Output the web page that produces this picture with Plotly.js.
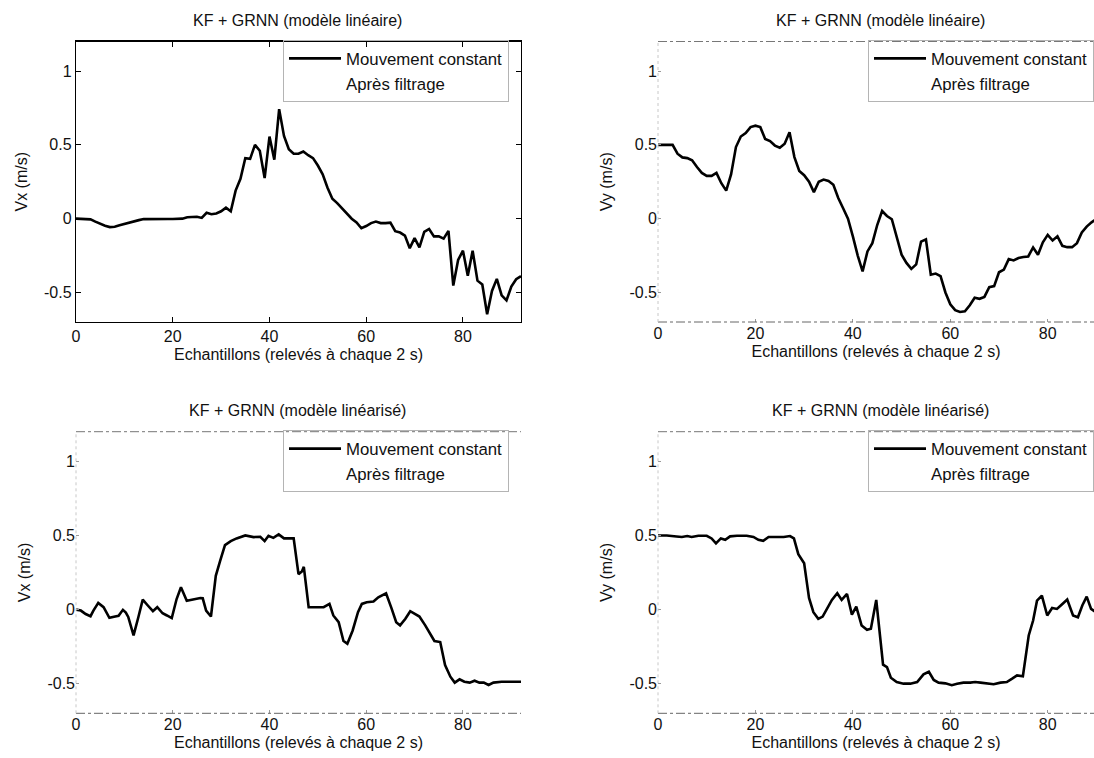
<!DOCTYPE html>
<html>
<head>
<meta charset="utf-8">
<script src="https://cdn.plot.ly/plotly-3.0.1.min.js"></script>
<style>html,body{margin:0;padding:0;background:#fff;}#chart{width:1094px;height:758px;}</style>
</head>
<body>
<div id="chart"></div>
<script>
// ---------- data ----------
const titleLin = "KF + GRNN (modèle linéaire)";
const titleLinz = "KF + GRNN (modèle linéarisé)";
const xLabel = "Echantillons (relevés à chaque 2 s)";
const seriesNames = ["Mouvement constant", "Après filtrage"];
const xTicks = [0, 20, 40, 60, 80];
const yTicks = [-0.5, 0, 0.5, 1];
const yTickText = ["-0.5", "0", "0.5", "1"];

// top-left : Vx, modèle linéaire
const vxLinX = [0,1,2,3,4,5,6,7,8,9,10,11,12,13,14,15,16,17,18,19,20,21,22,23,24,25,26,27,28,29,30,31,32,33,34,35,36,37,38,39,40,41,42,43,44,45,46,47,48,49,50,51,52,53,54,55,56,57,58,59,60,61,62,63,64,65,66,67,68,69,70,71,72,73,74,75,76,77,78,79,80,81,82,83,84,85,86,87,88,89,90,91,92];
const vxLinY = [0,0,0,-0.005,-0.02,-0.035,-0.048,-0.057,-0.055,-0.045,-0.035,-0.025,-0.018,-0.01,-0.003,-0.002,-0.002,-0.002,-0.002,-0.002,-0.002,-0.002,0,0.01,0.012,0.013,0.005,0.04,0.03,0.035,0.05,0.074,0.05,0.19,0.27,0.41,0.405,0.5,0.46,0.275,0.556,0.40,0.742,0.56,0.47,0.44,0.44,0.455,0.43,0.41,0.36,0.3,0.21,0.135,0.105,0.07,0.03,0.0,-0.025,-0.065,-0.05,-0.03,-0.02,-0.03,-0.03,-0.027,-0.085,-0.094,-0.115,-0.2,-0.132,-0.195,-0.09,-0.07,-0.12,-0.12,-0.135,-0.083,-0.453,-0.28,-0.217,-0.386,-0.217,-0.42,-0.446,-0.648,-0.49,-0.408,-0.52,-0.554,-0.46,-0.41,-0.39];

// top-right : Vy, modèle linéaire
const vyLinX = [0,1,2,3,4,5,6,7,8,9,10,11,12,13,14,15,16,17,18,19,20,21,22,23,24,25,26,27,28,29,30,31,32,33,34,35,36,37,38,39,40,41,42,43,44,45,46,47,48,49,50,51,52,53,54,55,56,57,58,59,60,61,62,63,64,65,66,67,68,69,70,71,72,73,74,75,76,77,78,79,80,81,82,83,84,85,86,87,88,89,90,91];
const vyLinY = [0.5,0.5,0.5,0.5,0.44,0.415,0.41,0.395,0.35,0.31,0.29,0.29,0.31,0.24,0.19,0.3,0.485,0.556,0.58,0.62,0.63,0.62,0.54,0.525,0.495,0.48,0.507,0.585,0.417,0.323,0.294,0.25,0.18,0.25,0.265,0.255,0.23,0.14,0.07,0.0,-0.12,-0.25,-0.357,-0.222,-0.166,-0.043,0.052,0.018,-0.004,-0.12,-0.244,-0.3,-0.34,-0.31,-0.155,-0.14,-0.38,-0.372,-0.39,-0.5,-0.58,-0.62,-0.632,-0.628,-0.587,-0.536,-0.543,-0.53,-0.464,-0.457,-0.363,-0.345,-0.274,-0.283,-0.267,-0.26,-0.256,-0.195,-0.244,-0.16,-0.11,-0.148,-0.12,-0.184,-0.193,-0.193,-0.166,-0.094,-0.054,-0.025,0.0,0.02];

// bottom-left : Vx, modèle linéarisé
const vxLinzX = [0,1,2,3,3.6,4.6,5.7,6.9,8.1,8.8,9.7,10.3,10.8,11.9,12.9,13.8,14.8,15.9,16.8,17.9,18.8,19.8,20.8,21.7,22.9,24.3,25.7,26.2,26.9,27.9,28.9,29.8,30.8,32,33.2,35,36.7,38.1,39,39.8,40.8,41.9,43,45,46,46.7,47.1,48.1,49.1,51.2,52.4,53.2,54.3,55.3,56.1,57.2,58.3,59.1,60.1,61.5,62.5,64.1,65.2,66.2,67,68.1,69.1,70.1,71,72.2,73.2,74.1,75.3,76.3,77.4,78.3,79.3,80.3,81.4,82.4,83.4,84.3,85.3,86.3,88,90,92];
const vxLinzY = [0,-0.007,-0.03,-0.045,-0.007,0.045,0.016,-0.056,-0.047,-0.042,-0.002,-0.02,-0.05,-0.174,-0.05,0.067,0.029,-0.011,0.016,-0.025,-0.04,-0.058,0.071,0.15,0.06,0.069,0.078,0.076,-0.007,-0.047,0.228,0.328,0.435,0.462,0.48,0.5,0.489,0.491,0.462,0.498,0.484,0.507,0.48,0.48,0.239,0.257,0.288,0.016,0.016,0.016,0.038,-0.04,-0.085,-0.212,-0.23,-0.141,-0.018,0.038,0.049,0.054,0.083,0.109,0.011,-0.085,-0.107,-0.062,-0.011,-0.029,-0.047,-0.107,-0.163,-0.212,-0.219,-0.375,-0.453,-0.493,-0.471,-0.487,-0.493,-0.48,-0.493,-0.493,-0.509,-0.493,-0.487,-0.487,-0.487];

// bottom-right : Vy, modèle linéarisé
const vyLinzX = [0,1.8,3.8,4.9,6,6.9,8.3,10,11,11.9,12.9,13.8,14.8,16.2,18.2,19.6,20.6,21.6,22.7,23.7,25.8,27.1,27.9,28.8,30,30.5,31,31.9,32.9,33.8,34.7,35.7,36.8,37.7,38.8,39.8,40.7,41.8,42.9,43.7,44.8,45.5,46.2,47,47.8,49,50.4,51.8,53.2,54.5,55.6,56.6,57.6,59,60.3,61.4,62.7,64.1,65.1,66.2,67.5,68.9,70.3,71.6,72.7,73.7,74.9,76.1,77,77.8,78.8,79.9,80.9,81.9,82.9,84,85.2,86.2,87.1,88,88.9,89.6,91];
const vyLinzY = [0.5,0.5,0.493,0.49,0.496,0.49,0.498,0.498,0.48,0.446,0.48,0.471,0.494,0.498,0.498,0.49,0.471,0.464,0.49,0.49,0.49,0.496,0.48,0.374,0.312,0.195,0.078,-0.018,-0.063,-0.047,0.011,0.065,0.11,0.065,0.105,-0.034,0.02,-0.108,-0.137,-0.13,0.065,-0.164,-0.372,-0.388,-0.46,-0.489,-0.5,-0.5,-0.489,-0.437,-0.42,-0.475,-0.493,-0.498,-0.51,-0.5,-0.493,-0.493,-0.489,-0.493,-0.5,-0.504,-0.493,-0.489,-0.466,-0.444,-0.45,-0.175,-0.074,0.06,0.094,-0.04,0.011,0.004,0.034,0.067,-0.04,-0.052,0.027,0.087,0.004,-0.011,-0.02];

// ---------- layout helpers ----------
const W = 1094, H = 758;
const px = v => v / W;
const py = v => 1 - v / H;
const FONT = "Liberation Sans, Arial, Helvetica, sans-serif";
const TXT = "#111";

const panels = [
  {x: vxLinX, y: vxLinY, xa: "x", ya: "y", lg: "legend", title: titleLin, ylab: "Vx (m/s)"},
  {x: vyLinX, y: vyLinY, xa: "x2", ya: "y2", lg: "legend2", title: titleLin, ylab: "Vy (m/s)"},
  {x: vxLinzX, y: vxLinzY, xa: "x3", ya: "y3", lg: "legend3", title: titleLinz, ylab: "Vx (m/s)"},
  {x: vyLinzX, y: vyLinzY, xa: "x4", ya: "y4", lg: "legend4", title: titleLinz, ylab: "Vy (m/s)"}
];

const traces = [];
panels.forEach(p => {
  traces.push({x: p.x, y: p.y, xaxis: p.xa, yaxis: p.ya, legend: p.lg, name: seriesNames[0],
    type: "scatter", mode: "lines", line: {color: "#000", width: 2.6}, showlegend: true});
  // second series: its curve is not legible in the scanned reference, only its legend entry is
  traces.push({x: [null], y: [null], xaxis: p.xa, yaxis: p.ya, legend: p.lg, name: seriesNames[1],
    type: "scatter", mode: "lines", line: {color: "rgba(0,0,0,0)", width: 1}, showlegend: true});
});

// pixel geometry of the four axes boxes
const boxes = [
  {l: 76, r: 521, t: 41.5, b: 322, xr: [0, 92]},
  {l: 658, r: 1094, t: 41.5, b: 322, xr: [0, 89.5]},
  {l: 76, r: 521, t: 431.7, b: 713.3, xr: [0, 92]},
  {l: 658, r: 1094, t: 431.7, b: 713.3, xr: [0, 89.5]}
];

const layout = {
  width: W, height: H,
  margin: {l: 0, r: 0, t: 0, b: 0},
  paper_bgcolor: "#fff", plot_bgcolor: "#fff",
  font: {family: FONT, size: 16, color: TXT},
  showlegend: true,
  annotations: [], shapes: []
};

boxes.forEach((b, i) => {
  const sfx = i === 0 ? "" : String(i + 1);
  const solid = i === 0;
  layout["xaxis" + sfx] = {
    domain: [px(b.l), px(b.r)], range: b.xr, anchor: "y" + sfx,
    tickvals: xTicks, ticktext: xTicks.map(String), ticks: "inside", ticklen: solid ? 5 : 3,
    tickcolor: solid ? "#000" : "#999", showline: solid, linecolor: "#000", linewidth: 1.2,
    mirror: solid ? "ticks" : false, showgrid: false, zeroline: false,
    tickfont: {family: FONT, size: 16, color: TXT},
    title: {text: xLabel, font: {family: FONT, size: 16, color: TXT}, standoff: 4}
  };
  layout["yaxis" + sfx] = {
    domain: [py(b.b), py(b.t)], range: [-0.7, 1.2], anchor: "x" + sfx,
    tickvals: yTicks, ticktext: yTickText, ticks: "inside", ticklen: solid ? 5 : 3,
    tickcolor: solid ? "#000" : "#999", showline: solid, linecolor: "#000", linewidth: 1.2,
    mirror: solid ? "ticks" : false, showgrid: false, zeroline: false,
    tickfont: {family: FONT, size: 16, color: TXT},
    title: {text: panels[i].ylab, font: {family: FONT, size: 16, color: TXT}, standoff: 12}
  };
  // subplot title
  const cx = i % 2 === 0 ? 298 : 880;
  layout.annotations.push({xref: "paper", yref: "paper", x: px(cx), y: py(b.t - 21),
    xanchor: "center", yanchor: "middle", showarrow: false, text: panels[i].title,
    font: {family: FONT, size: 16, color: TXT}});
  // faint scanned frames for the other panels
  if (!solid) {
    const xa = "x" + sfx + " domain", ya = "y" + sfx + " domain";
    layout.shapes.push({type: "line", xref: xa, yref: ya, x0: 0, x1: 1, y0: 1, y1: 1,
      line: {color: "#777", width: 1, dash: "dashdot"}});
    layout.shapes.push({type: "line", xref: xa, yref: ya, x0: 0, x1: 1, y0: 0, y1: 0,
      line: {color: "#666", width: 1, dash: "dashdot"}});
    layout.shapes.push({type: "line", xref: xa, yref: ya, x0: 0, x1: 0, y0: 0, y1: 1,
      line: {color: "#c8c8c8", width: 1, dash: "dot"}});
  }
  // legend
  const lgx = i % 2 === 0 ? 283 : 868;
  const lgy = b.t - 1.5;
  layout[panels[i].lg] = {
    x: px(lgx), y: py(lgy), xanchor: "left", yanchor: "top",
    bgcolor: "rgba(255,255,255,0)", bordercolor: "#b4b4b4", borderwidth: 1,
    itemwidth: 52, font: {family: FONT, size: 16.8, color: TXT}, itemclick: false
  };
});

Plotly.newPlot("chart", traces, layout, {displayModeBar: false, staticPlot: true});
</script>
</body>
</html>
